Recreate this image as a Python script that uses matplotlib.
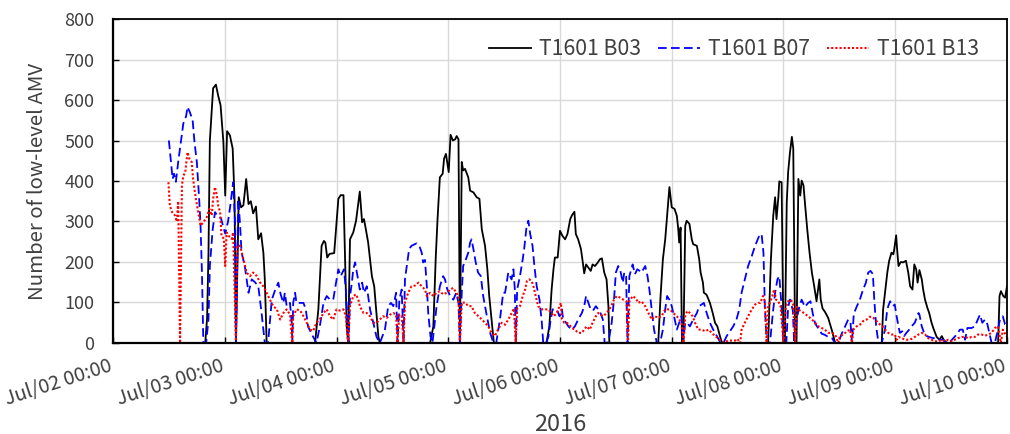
import matplotlib
matplotlib.use("Agg")
import matplotlib.pyplot as plt
import matplotlib.dates as mdates
import matplotlib.transforms as mtransforms
import pandas as pd

plt.rcParams['font.family'] = ['Noto Sans CJK JP', 'DejaVu Sans']

# ── Data: hours after 2016-07-02 00:00, count of low-level AMV ───────────────
START = pd.Timestamp("2016-07-02 00:00")

b03_hours = [11.8, 19.4, 19.8, 20.2, 20.5, 20.8, 21.5, 22.1, 22.6, 23.1, 23.7, 24.1,
             24.5, 25.1, 25.7, 26.1, 26.4, 27.0, 27.5, 28.0, 28.6, 29.1, 29.6, 30.1,
             30.7, 31.2, 31.8, 32.3, 32.6, 33.0, 43.4, 44.1, 44.8, 45.3, 45.6, 46.0,
             46.5, 47.5, 48.0, 48.4, 48.9, 49.5, 49.8, 50.2, 50.5, 50.9, 51.6, 52.2,
             52.7, 53.0, 53.5, 53.9, 54.3, 54.8, 55.2, 55.6, 56.1, 56.5, 57.0, 57.3,
             68.1, 68.8, 69.3, 69.7, 70.2, 70.8, 71.1, 71.5, 72.1, 72.5, 73.0, 73.5,
             73.8, 74.2, 74.5, 74.9, 75.2, 75.6, 76.0, 76.3, 76.7, 77.4, 78.1, 78.7,
             79.2, 79.9, 80.4, 80.8, 81.3, 81.8, 93.1, 93.7, 94.2, 94.6, 94.9, 95.5,
             96.0, 96.5, 97.1, 97.6, 98.2, 98.6, 99.1, 99.4, 99.9, 100.5, 100.9, 101.2,
             101.6, 102.1, 102.6, 103.0, 103.5, 104.0, 104.6, 105.0, 105.5, 106.0, 106.4, 106.6,
             117.1, 117.6, 118.1, 118.6, 119.0, 119.5, 120.0, 120.6, 121.1, 121.4, 121.6, 121.9,
             122.2, 122.5, 122.9, 123.2, 123.8, 124.3, 124.6, 125.4, 125.9, 126.2, 126.7, 126.9,
             127.4, 127.6, 128.2, 128.8, 129.3, 129.8, 130.4, 130.8, 140.7, 141.3, 141.8, 142.2,
             142.5, 142.9, 143.1, 143.6, 144.0, 144.3, 144.7, 145.0, 145.4, 145.8, 146.1, 146.5,
             146.8, 147.2, 147.6, 147.9, 148.3, 148.6, 149.1, 149.6, 150.1, 150.6, 151.1, 151.7,
             152.0, 152.4, 152.9, 153.6, 154.4, 155.1, 165.1, 165.4, 165.8, 166.3, 166.7, 167.2,
             167.6, 167.8, 168.2, 168.4, 168.7, 169.2, 169.7, 170.3, 170.8, 171.2, 171.7, 172.1,
             172.5, 172.8, 173.2, 173.7, 174.0, 174.4, 174.9, 175.3, 175.8, 176.3, 176.9, 177.5,
             178.0, 178.5, 179.1, 190.1, 190.4, 190.7, 191.2, 191.6, 192.0]
b03_values = [0, 0, 0, 60, 220, 500, 629, 638, 610, 587, 497, 364,
              523, 513, 480, 356, 0, 360, 335, 340, 405, 343, 350, 320,
              337, 256, 271, 222, 157, 0, 0, 83, 240, 252, 248, 211,
              220, 222, 298, 356, 365, 365, 225, 40, 0, 256, 273, 302,
              347, 374, 298, 306, 281, 248, 207, 165, 140, 83, 15, 0,
              0, 41, 207, 306, 409, 418, 455, 467, 422, 514, 500, 503,
              511, 503, 0, 447, 426, 430, 418, 409, 376, 372, 360, 356,
              281, 240, 182, 116, 58, 0, 0, 40, 132, 182, 211, 211,
              277, 265, 256, 269, 306, 316, 324, 269, 256, 232, 199, 172,
              194, 186, 178, 194, 190, 197, 207, 209, 174, 157, 91, 0,
              0, 116, 207, 256, 314, 385, 335, 331, 314, 281, 248, 285,
              0, 0, 289, 302, 294, 256, 244, 240, 207, 174, 149, 124,
              120, 116, 99, 74, 50, 41, 15, 0, 0, 207, 314, 360,
              306, 360, 399, 397, 0, 0, 347, 422, 471, 509, 480, 0,
              0, 405, 364, 401, 389, 347, 281, 223, 174, 140, 103, 157,
              107, 85, 77, 62, 31, 0, 0, 83, 124, 174, 203, 223,
              219, 232, 266, 232, 190, 200, 199, 203, 174, 140, 132, 194,
              182, 149, 180, 157, 132, 107, 87, 74, 50, 33, 15, 8,
              17, 6, 0, 0, 116, 128, 116, 112, 140]

b07_hours = [12.0, 12.6, 12.8, 13.1, 13.5, 14.0, 15.1, 15.7, 16.0, 16.5, 17.1, 17.5,
             18.0, 18.5, 18.8, 19.1, 19.4, 20.0, 20.5, 20.8, 21.4, 21.9, 22.6, 23.2,
             23.6, 24.1, 24.7, 25.2, 25.8, 26.2, 26.4, 26.9, 27.3, 27.6, 28.3, 29.1,
             29.8, 30.5, 31.2, 31.9, 32.6, 33.3, 34.1, 34.8, 35.5, 36.0, 36.6, 36.9,
             37.3, 38.0, 38.4, 38.5, 38.7, 39.1, 39.4, 40.2, 40.9, 41.4, 41.9, 43.0,
             43.7, 44.4, 45.2, 45.9, 46.6, 47.3, 47.9, 48.4, 48.9, 49.6, 50.0, 50.3,
             50.6, 50.9, 51.3, 51.6, 52.0, 52.5, 53.0, 53.5, 53.9, 54.5, 54.8, 55.2,
             55.9, 56.6, 57.3, 58.4, 59.1, 59.7, 60.2, 60.8, 61.1, 61.5, 62.0, 62.4,
             62.7, 63.2, 63.6, 64.1, 65.2, 65.9, 66.3, 66.6, 67.0, 67.4, 67.7, 68.2,
             68.6, 69.5, 70.2, 70.9, 71.3, 71.8, 72.4, 73.1, 73.7, 74.2, 74.5, 74.9,
             75.2, 75.8, 76.3, 76.7, 77.0, 77.4, 77.9, 78.4, 79.0, 79.5, 80.3, 81.0,
             81.7, 82.3, 83.1, 83.8, 84.2, 84.9, 85.6, 86.0, 86.3, 86.5, 86.8, 87.4,
             88.0, 88.3, 88.8, 89.2, 89.6, 90.1, 90.5, 91.0, 91.6, 92.1, 92.4, 93.0,
             93.5, 93.9, 94.4, 95.3, 95.9, 96.4, 96.7, 97.3, 97.8, 98.5, 99.2, 99.9,
             100.7, 101.2, 101.6, 102.1, 102.6, 103.1, 103.7, 104.2, 104.7, 105.2, 105.6, 106.1,
             106.6, 107.1, 107.6, 108.0, 108.5, 108.9, 109.5, 109.8, 110.2, 110.5, 110.9, 111.6,
             112.1, 112.6, 113.1, 113.5, 114.3, 114.8, 115.2, 115.7, 116.2, 116.8, 117.5, 118.1,
             118.6, 119.0, 119.5, 120.0, 120.5, 121.1, 121.6, 122.1, 122.4, 122.9, 123.3, 123.9,
             124.6, 125.4, 125.9, 126.4, 126.9, 127.5, 128.2, 128.9, 129.7, 130.4, 131.1, 131.8,
             132.5, 133.2, 133.9, 134.5, 135.0, 135.7, 136.4, 137.2, 137.9, 138.8, 139.3, 139.7,
             140.0, 140.4, 141.1, 141.7, 142.2, 142.7, 143.1, 143.6, 144.0, 144.6, 145.0, 145.4,
             146.0, 146.3, 146.8, 147.4, 147.9, 148.6, 149.3, 149.8, 150.3, 150.8, 151.5, 152.2,
             152.9, 153.6, 154.4, 155.1, 155.8, 156.5, 157.2, 157.9, 158.4, 158.7, 159.1, 159.7,
             160.4, 161.1, 161.7, 162.2, 162.7, 163.2, 163.5, 163.9, 164.4, 165.1, 165.8, 166.2,
             166.5, 166.9, 167.5, 167.9, 168.3, 168.7, 169.0, 169.5, 169.9, 170.4, 171.0, 171.5,
             172.2, 173.0, 173.2, 173.7, 174.2, 174.8, 175.5, 176.2, 176.9, 177.6, 178.3, 179.1,
             179.8, 180.5, 181.2, 181.9, 182.5, 183.0, 183.5, 184.4, 185.1, 185.6, 186.2, 186.7,
             187.3, 187.8, 188.2, 188.7, 189.4, 189.9, 190.5, 191.1, 191.6, 192.0]
b07_values = [500, 430, 405, 418, 398, 447, 542, 560, 583, 570, 550, 496,
              447, 356, 290, 174, 0, 0, 58, 190, 280, 323, 312, 308,
              290, 270, 300, 340, 397, 300, 0, 356, 290, 224, 190, 124,
              157, 150, 140, 75, 0, 0, 107, 130, 149, 120, 99, 124,
              91, 99, 50, 0, 99, 124, 99, 99, 99, 83, 40, 15,
              0, 40, 99, 116, 107, 107, 149, 182, 165, 182, 132, 66,
              0, 116, 149, 182, 199, 165, 132, 149, 124, 140, 116, 83,
              50, 15, 0, 33, 91, 99, 91, 124, 0, 107, 132, 0,
              157, 199, 232, 240, 246, 236, 223, 199, 205, 140, 74, 15,
              0, 91, 140, 165, 157, 132, 116, 107, 124, 99, 0, 124,
              190, 207, 223, 248, 256, 232, 199, 174, 165, 116, 66, 25,
              0, 0, 58, 124, 124, 174, 157, 182, 132, 0, 132, 165,
              207, 232, 285, 302, 269, 240, 190, 140, 107, 50, 0, 0,
              15, 50, 83, 83, 66, 83, 58, 50, 41, 33, 41, 58,
              74, 91, 116, 99, 83, 80, 91, 83, 74, 58, 0, 0,
              15, 50, 107, 174, 190, 182, 149, 174, 165, 0, 165, 194,
              170, 182, 178, 174, 190, 165, 132, 83, 33, 0, 0, 33,
              83, 116, 107, 91, 66, 33, 50, 66, 0, 50, 50, 41,
              58, 74, 91, 95, 99, 74, 50, 33, 17, 2, 0, 17,
              29, 41, 58, 83, 124, 157, 190, 215, 240, 265, 269, 223,
              89, 0, 0, 72, 124, 157, 165, 89, 0, 0, 89, 107,
              81, 0, 58, 89, 107, 89, 99, 103, 72, 48, 36, 23,
              20, 15, 12, 0, 0, 23, 40, 58, 50, 0, 72, 89,
              107, 132, 149, 174, 178, 170, 107, 41, 0, 0, 33, 74,
              91, 103, 91, 95, 66, 41, 25, 29, 17, 25, 33, 41,
              50, 74, 70, 41, 25, 17, 14, 12, 12, 8, 8, 0,
              3, 12, 21, 33, 33, 8, 37, 37, 41, 54, 70, 50,
              58, 46, 25, 0, 0, 25, 58, 66, 46, 44]

b13_hours = [11.9, 12.2, 12.7, 13.3, 13.7, 14.0, 14.4, 14.8, 15.1, 15.5, 16.0, 16.4,
             16.9, 17.2, 17.8, 18.3, 18.8, 19.4, 20.1, 20.7, 21.2, 21.5, 21.9, 22.3,
             22.6, 23.0, 23.3, 23.8, 24.1, 24.4, 24.8, 25.5, 25.8, 26.4, 26.7, 27.3,
             28.0, 28.7, 29.4, 30.1, 30.9, 31.6, 32.3, 33.0, 33.7, 34.4, 35.2, 35.9,
             36.6, 37.3, 38.0, 38.5, 38.7, 39.4, 40.2, 40.9, 41.6, 42.3, 43.0, 43.7,
             44.4, 45.2, 45.9, 46.6, 47.3, 48.0, 48.7, 49.5, 50.0, 50.5, 50.9, 51.6,
             52.2, 52.7, 53.0, 53.8, 54.5, 55.2, 55.9, 56.6, 57.3, 58.0, 58.8, 59.5,
             60.2, 60.8, 61.1, 61.5, 62.0, 62.4, 62.7, 63.4, 64.1, 64.9, 65.6, 66.3,
             67.0, 67.4, 68.1, 68.8, 69.5, 70.2, 70.9, 71.7, 72.4, 73.1, 73.7, 74.2,
             74.5, 74.9, 75.6, 76.3, 77.0, 77.7, 78.5, 79.2, 79.9, 80.6, 81.3, 82.0,
             82.7, 83.5, 84.2, 84.9, 85.6, 86.1, 86.5, 86.8, 87.4, 88.0, 88.5, 88.9,
             89.4, 89.9, 90.3, 90.8, 91.3, 92.1, 92.8, 93.5, 94.2, 94.7, 95.3, 95.9,
             96.2, 96.4, 96.9, 97.4, 98.0, 98.5, 99.2, 99.9, 100.7, 101.2, 101.7, 102.4,
             103.0, 103.7, 104.2, 104.7, 105.3, 106.0, 106.6, 107.0, 107.6, 108.2, 108.9, 109.6,
             110.3, 110.6, 110.9, 111.6, 112.3, 112.8, 113.5, 114.3, 115.0, 115.7, 116.4, 117.1,
             117.8, 118.6, 119.6, 120.3, 121.1, 121.6, 122.1, 122.5, 122.9, 123.3, 123.9, 124.5,
             125.0, 125.7, 126.4, 127.2, 127.9, 128.6, 129.3, 130.0, 130.8, 131.4, 132.1, 132.9,
             133.6, 134.1, 134.7, 135.0, 135.7, 136.4, 137.2, 137.9, 138.6, 139.0, 139.6, 140.0,
             140.4, 140.7, 141.5, 142.0, 142.4, 142.9, 143.4, 144.0, 144.5, 145.0, 145.6, 146.1,
             146.5, 146.8, 147.4, 147.9, 148.6, 149.3, 150.1, 150.8, 151.5, 152.2, 152.9, 153.6,
             154.4, 155.1, 155.8, 156.1, 156.9, 157.6, 158.3, 158.7, 159.0, 159.7, 160.4, 161.1,
             161.9, 162.6, 163.3, 164.0, 164.7, 165.3, 165.8, 166.5, 167.2, 167.9, 168.3, 168.7,
             169.4, 170.1, 170.8, 171.5, 172.2, 173.0, 173.7, 174.4, 175.1, 175.8, 176.5, 177.3,
             178.0, 178.7, 179.4, 180.1, 180.8, 181.5, 182.3, 183.0, 183.7, 184.4, 185.1, 185.8,
             186.5, 187.3, 188.0, 188.7, 189.4, 190.1, 190.7, 191.1, 191.5, 192.0]
b13_values = [397, 339, 323, 315, 300, 350, 0, 389, 413, 421, 471, 455,
              447, 405, 356, 323, 290, 298, 310, 331, 315, 356, 385, 364,
              339, 323, 265, 257, 190, 273, 265, 257, 273, 0, 240, 240,
              207, 174, 165, 174, 165, 149, 140, 124, 107, 91, 83, 58,
              74, 83, 70, 0, 66, 83, 80, 66, 50, 33, 30, 50,
              58, 74, 83, 66, 58, 83, 80, 83, 66, 0, 91, 116,
              120, 107, 91, 74, 74, 66, 50, 50, 58, 66, 62, 70,
              74, 70, 0, 70, 66, 0, 100, 124, 140, 142, 149, 140,
              132, 116, 124, 116, 124, 128, 120, 124, 132, 136, 124, 116,
              0, 99, 100, 91, 91, 74, 66, 58, 50, 41, 25, 17,
              33, 50, 45, 58, 74, 85, 0, 85, 91, 116, 132, 153,
              157, 153, 140, 116, 91, 83, 83, 83, 74, 66, 74, 91,
              99, 60, 50, 50, 46, 37, 33, 25, 25, 33, 41, 33,
              50, 66, 74, 70, 66, 74, 83, 91, 107, 116, 112, 107,
              103, 0, 103, 116, 110, 99, 103, 91, 74, 58, 66, 62,
              66, 83, 83, 74, 66, 58, 50, 0, 66, 79, 74, 66,
              50, 33, 33, 29, 33, 25, 17, 12, 2, 2, 6, 6,
              6, 10, 0, 33, 50, 66, 83, 95, 99, 99, 116, 103,
              0, 89, 112, 132, 107, 103, 89, 0, 89, 103, 107, 95,
              0, 89, 81, 78, 72, 66, 58, 50, 41, 37, 33, 25,
              25, 21, 0, 17, 21, 29, 33, 0, 33, 41, 45, 54,
              58, 65, 62, 54, 46, 41, 33, 25, 21, 21, 8, 15,
              12, 8, 8, 10, 15, 21, 25, 21, 12, 8, 4, 4,
              8, 4, 8, 4, 8, 12, 15, 15, 12, 15, 15, 21,
              21, 18, 21, 25, 37, 41, 0, 33, 25, 15]

# label, hours, values, colour, linestyle, linewidth
SERIES = [
    ("T1601 B03", b03_hours, b03_values, "black", "-", 1.3),
    ("T1601 B07", b07_hours, b07_values, "#0000FF", (0, (4.8, 2.4)), 1.3),
    ("T1601 B13", b13_hours, b13_values, "#FF0000", (0, (1, 1)), 1.5),
]

TEXT_COLOR = "#404040"
GRID_COLOR = "#D9D9D9"

fig = plt.figure(figsize=(10.1, 4.34), dpi=100)
ax = fig.add_axes([0.1119, 0.2097, 0.8851, 0.7465])

for label, hrs, vals, color, ls, lw in SERIES:
    times = START + pd.to_timedelta(hrs, unit="h")
    ax.plot(times, vals, color=color, linestyle=ls, linewidth=lw,
            label=label, dash_capstyle="butt")

ax.set_xlim(START, START + pd.Timedelta(days=8))
ax.set_ylim(0, 800)
ax.set_yticks(range(0, 801, 100))
ax.xaxis.set_major_locator(mdates.DayLocator())
ax.xaxis.set_major_formatter(mdates.DateFormatter("%b/%d %H:%M"))

ax.grid(True, color=GRID_COLOR, linewidth=1.0)
ax.set_axisbelow(True)

for side, sp in ax.spines.items():
    sp.set_color("black")
    sp.set_linewidth(1.6 if side in ("left", "bottom") else 1.3)

ax.tick_params(axis="both", direction="in", length=4, width=1.0, color="black",
               labelcolor=TEXT_COLOR)
ax.tick_params(axis="y", labelsize=13, pad=13.5)
ax.tick_params(axis="x", labelsize=14.2, pad=9)
shift = mtransforms.ScaledTranslation(-5 / 100, 0, fig.dpi_scale_trans)
for lbl in ax.get_xticklabels():
    lbl.set_rotation(18)
    lbl.set_ha("right")
    lbl.set_va("top")
    lbl.set_rotation_mode("anchor")
    lbl.set_transform(lbl.get_transform() + shift)

ax.set_ylabel("Number of low-level AMV", fontsize=14.7, color=TEXT_COLOR, labelpad=11.5)
ax.set_xlabel("2016", fontsize=17, color=TEXT_COLOR, labelpad=2)

leg = ax.legend(loc="upper right", bbox_to_anchor=(0.99, 1.0), ncol=3,
                frameon=False, fontsize=15.3, handlelength=2.0,
                handletextpad=0.35, columnspacing=0.8)
for t in leg.get_texts():
    t.set_color(TEXT_COLOR)

fig.savefig("out.png", dpi=100)
